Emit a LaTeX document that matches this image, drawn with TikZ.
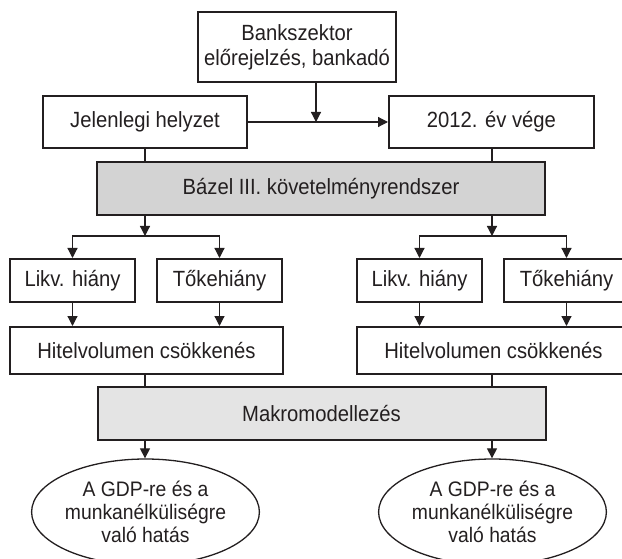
\documentclass[tikz,border=0pt]{standalone}
\usepackage{fontspec}
\setmainfont{Liberation Sans}[FakeStretch=0.92]
\usetikzlibrary{arrows.meta,shapes.geometric}
\definecolor{bazelgray}{RGB}{211,211,211}
\definecolor{makrogray}{RGB}{228,228,228}
\definecolor{ink}{RGB}{35,31,32}
\begin{document}
\begin{tikzpicture}[x=1pt, y=-1pt, ink,
	box/.style={draw, line width=2pt, inner sep=0pt, align=center, font=\fontsize{22}{25}\selectfont},
	smallbox/.style={box, minimum width=125pt, minimum height=43pt},
	greybox/.style={box, minimum width=448pt, minimum height=53pt},
	effect/.style={draw, ellipse, line width=1.3pt, inner sep=0pt, minimum width=222pt, minimum height=106pt, align=center, font=\fontsize{21}{23}\selectfont},
	link/.style={line width=1.2pt},
	arr/.style={line width=1.2pt, -{Triangle[length=10pt,width=10pt]}}]
	\clip (0,0) rectangle (622,559);
	
	%top row
	\node (bank) at (297,47) [box, minimum width=198pt, minimum height=70pt]{Bankszektor\\előrejelzés, bankadó};
	\node (now) at (145,122) [box, minimum width=204pt, minimum height=52pt]{Jelenlegi helyzet};
	\node (end) at (491.5,122) [box, minimum width=205pt, minimum height=52pt]{2012. év vége};
	\coordinate (mid) at (316,122);
	\draw[arr] (now) -- (end);
	\draw[arr] (bank.south -| mid) -- (mid);
	
	\node (bazel) at (321,188.5) [greybox, fill=bazelgray]{Bázel III. követelményrendszer};
	\node (makro) at (321.5,413.5) [greybox, fill=makrogray]{Makromodellezés};
	
	%two columns
	\foreach \s/\n/\top in {0/L/now, 347/R/end}{
		\coordinate (split\n) at (145+\s,236);
		\node (likv\n) at (72.5+\s,280.5) [smallbox]{Likv. hiány};
		\node (toke\n) at (219.5+\s,280.5) [smallbox]{Tőkehiány};
		\node (hitel\n) at (146.5+\s,350.5) [box, minimum width=273pt, minimum height=47pt]{Hitelvolumen csökkenés};
		\node (gdp\n) at (145.5+\s,512) [effect]{A GDP-re és a\\munkanélküliségre\\való hatás};
		
		\draw[link] (\top.south -| split\n) -- (bazel.north -| split\n);
		\draw[arr] (bazel.south -| split\n) -- (split\n);
		\draw[arr] (split\n) -| (likv\n.north);
		\draw[arr] (split\n) -| (toke\n.north);
		\draw[arr] (likv\n) -- (likv\n |- hitel\n.north);
		\draw[arr] (toke\n) -- (toke\n |- hitel\n.north);
		\draw[link] (hitel\n.south -| split\n) -- (makro.north -| split\n);
		\draw[arr] (makro.south -| split\n) -- (split\n |- gdp\n.north);
	}
\end{tikzpicture}
\end{document}
